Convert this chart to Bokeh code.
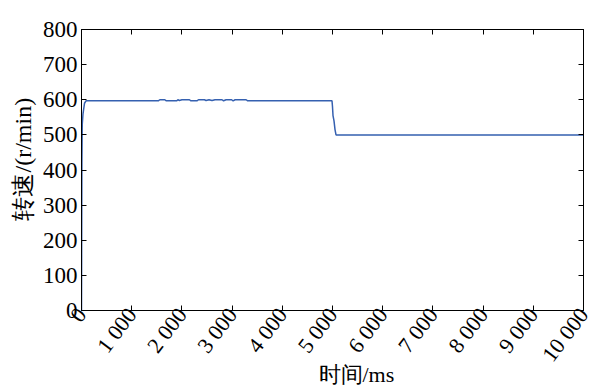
import math
from bokeh.plotting import figure
from bokeh.models import FixedTicker, LinearAxis, ColumnDataSource, Title
from bokeh.embed import file_html
from bokeh.resources import INLINE

# data
time_ms = [0, 8, 15, 30, 60, 90, 1530, 1560, 1660, 1690, 1900, 1920, 1950, 2000,
           2150, 2180, 2300, 2330, 2450, 2480, 2540, 2600, 2660, 2800, 2830, 2880,
           2990, 3020, 3060, 3280, 3310, 4990, 5000, 5010, 5030, 5050, 5070, 10000]
speed_rpm = [0, 420, 530, 560, 590, 597, 597, 600, 600, 597, 597, 600, 598, 600,
             600, 597, 597, 600, 600, 598, 600, 598, 600, 600, 597, 600,
             600, 597, 600, 600, 597, 597, 580, 555, 540, 515, 500, 500]

x_ticks = [0, 1000, 2000, 3000, 4000, 5000, 6000, 7000, 8000, 9000, 10000]
x_tick_labels = ["0", "1 000", "2 000", "3 000", "4 000", "5 000", "6 000",
                 "7 000", "8 000", "9 000", "10 000"]
y_ticks = [0, 100, 200, 300, 400, 500, 600, 700, 800]

x_label = "时间/ms"
y_label = "转速/(r/min)"

FONT = "Liberation Serif"

p = figure(width=596, height=392, x_range=(0, 10000), y_range=(0, 800),
           output_backend="svg", toolbar_location=None,
           min_border_left=81, min_border_right=13, min_border_top=29,
           min_border_bottom=82)
p.background_fill_color = "white"
p.border_fill_color = "white"
p.grid.visible = False
p.outline_line_color = "black"
p.outline_line_width = 1

src = ColumnDataSource(dict(t=time_ms, v=speed_rpm))
p.line("t", "v", source=src, line_color="#3560b0", line_width=1.5)

def style(ax, size="23px"):
    ax.axis_line_color = "black"
    ax.major_tick_line_color = "black"
    ax.major_tick_in = 5
    ax.major_tick_out = 0
    ax.minor_tick_line_color = None
    ax.major_label_text_font = FONT
    ax.major_label_text_font_size = size
    ax.major_label_text_color = "black"

xa = p.xaxis[0]
xa.ticker = FixedTicker(ticks=x_ticks)
xa.major_label_overrides = {t: l for t, l in zip(x_ticks, x_tick_labels)}
xa.major_label_orientation = 0.92
style(xa, "22px")
xa.major_label_standoff = 0

ya = p.yaxis[0]
ya.ticker = FixedTicker(ticks=y_ticks)
style(ya)
ya.major_label_standoff = 4

top = LinearAxis(ticker=FixedTicker(ticks=x_ticks))
style(top)
top.major_label_overrides = {t: "" for t in x_ticks}
top.major_label_standoff = 0
p.add_layout(top, "above")

right = LinearAxis(ticker=FixedTicker(ticks=y_ticks))
style(right)
right.major_label_overrides = {t: "" for t in y_ticks}
right.major_label_standoff = 0
p.add_layout(right, "right")

xt = Title(text=x_label, align="left", offset=237, vertical_align="top",
           text_font=FONT, text_font_size="22px", text_font_style="normal",
           text_color="black", standoff=0)
try:
    xt.standoff = -30
except Exception:
    xt.standoff = 0
p.add_layout(xt, "below")

yt = Title(text=y_label, align="left", offset=90, vertical_align="top",
           text_font=FONT, text_font_size="24px", text_font_style="normal",
           text_color="black", standoff=4)
p.add_layout(yt, "left")

open("out.html", "w").write(file_html(p, INLINE))
